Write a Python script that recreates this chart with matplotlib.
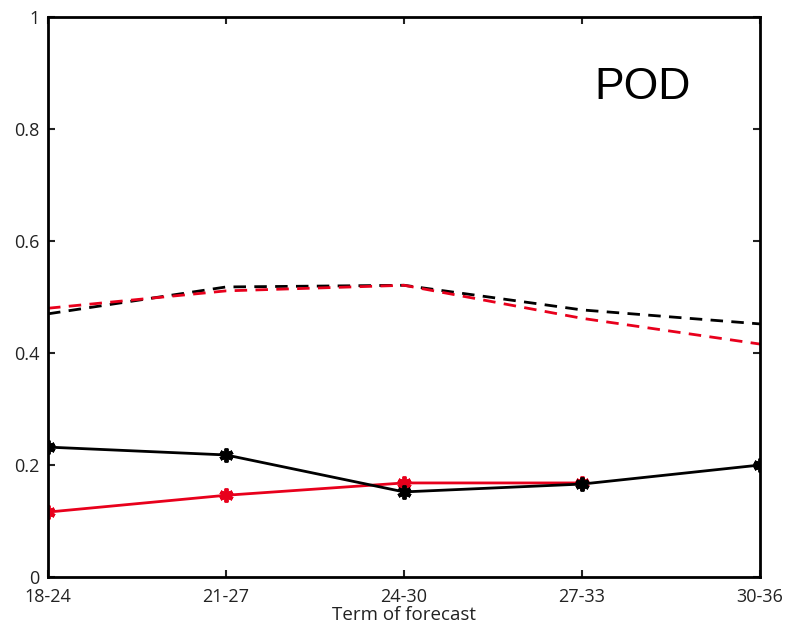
import matplotlib
matplotlib.use('Agg')
import matplotlib.pyplot as plt
import numpy as np

terms = ['18-24', '21-27', '24-30', '27-33', '30-36']
black_solid = [0.232, 0.218, 0.152, 0.166, 0.200]
red_solid = [0.116, 0.146, 0.168, 0.168, np.nan]
black_dash = [0.470, 0.518, 0.521, 0.477, 0.452]
red_dash = [0.480, 0.511, 0.521, 0.462, 0.416]

plt.rcParams['font.family'] = ['Open Sans', 'DejaVu Sans']
fig = plt.figure(figsize=(7.87, 6.32), dpi=100)
ax = fig.add_axes([0.061, 0.087, 0.9047, 0.886])
x = np.arange(len(terms))
red = '#e8001c'
ast = (6, 2, 0)
ax.plot(x, black_dash, color='k', lw=2, ls=(0, (4.5, 3)))
ax.plot(x, red_dash, color=red, lw=2, ls=(0, (4.5, 3)))
ax.plot(x, red_solid, color=red, lw=2, marker=ast, ms=10, mew=2.8)
ax.plot(x, black_solid, color='k', lw=2, marker=ast, ms=10, mew=2.8)

ax.set_xlim(0, 4)
ax.set_ylim(0, 1)
ax.set_xticks(x)
ax.set_xticklabels(terms)
ax.set_yticks([0, 0.2, 0.4, 0.6, 0.8, 1])
ax.set_yticklabels(['0', '0.2', '0.4', '0.6', '0.8', '1'])
ax.tick_params(direction='in', length=5, width=1.5, labelsize=13, colors='#222222',
               top=True, right=True)
ax.tick_params(axis='x', pad=8)
ax.tick_params(axis='y', pad=6)
for s in ax.spines.values():
    s.set_linewidth(2)
ax.set_xlabel('Term of forecast', fontsize=13.5, labelpad=0, color='#222222')
ax.text(0.835, 0.875, 'POD', transform=ax.transAxes, fontsize=32,
        family='Liberation Sans', ha='center', va='center')
fig.savefig('out.png')
